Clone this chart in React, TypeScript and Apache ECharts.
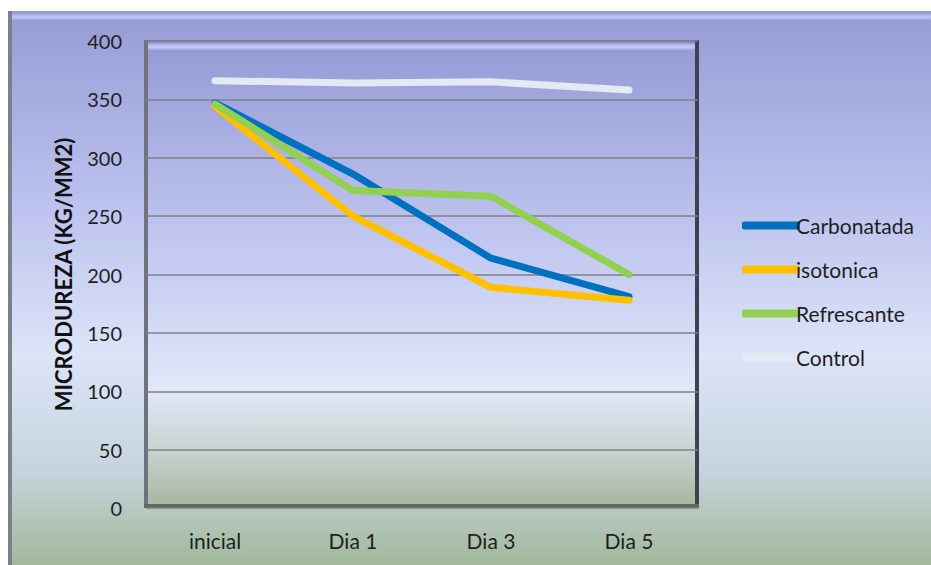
import React, { useEffect, useRef } from "react";
import * as echarts from "echarts";

const categories = ["inicial", "Dia 1", "Dia 3", "Dia 5"];
const carbonatada = [347, 286, 214, 181];
const isotonica = [344, 250, 189, 178];
const refrescante = [346, 272, 267, 200];
const control = [366, 364, 365, 358];
const seriesNames = ["Carbonatada", "isotonica", "Refrescante", "Control"];
const seriesColors = ["#0070C0", "#FFC000", "#92D050", "#E4EAF4"];

const W = 931;
const H = 565;
const PL = 146, PT = 41, PR = 698, PB = 508;

export default function App() {
  const ref = useRef<HTMLDivElement>(null);
  useEffect(() => {
    if (!ref.current) return;
    const chart = echarts.init(ref.current, undefined, { renderer: "svg" });
    const lg = (stops: [number, string][]) =>
      new echarts.graphic.LinearGradient(0, 0, 0, 1, stops.map(([offset, color]) => ({ offset, color })));
    const font = "Lato, 'Open Sans', sans-serif";
    const datas = [carbonatada, isotonica, refrescante, control];
    chart.setOption({
      animation: false,
      backgroundColor: "#ffffff",
      graphic: {
        elements: [
          {
            type: "rect", z: -100, silent: true,
            shape: { x: 8, y: 11, width: W - 8, height: H - 11 },
            style: { fill: lg([[0, "#969bd5"], [0.35, "#bcc2ee"], [0.62, "#dce4f8"], [0.82, "#c8d5e0"], [1, "#a2b89b"]]) },
          },
          { type: "rect", z: -99, silent: true, shape: { x: 8, y: 11, width: 4, height: H - 11 }, style: { fill: "#7d7f8a" } },
          { type: "rect", z: -99, silent: true, shape: { x: 12, y: 14, width: W - 12, height: 6 }, style: { fill: lg([[0, "#a6abe6"], [0.5, "#c0c5f6"], [1, "#a2a7e0"]]) } },
          {
            type: "rect", z: -90, silent: true,
            shape: { x: PL - 2, y: PT - 1, width: PR - PL + 3, height: PB - PT + 1 },
            style: { fill: lg([[0, "#9499d5"], [0.45, "#c3c9f1"], [0.75, "#e1e8f8"], [0.87, "#c9d5d2"], [1, "#a6b69f"]]) },
          },
          { type: "rect", z: -89, silent: true, shape: { x: PL - 2, y: PT - 1, width: PR - PL + 3, height: 2 }, style: { fill: "#7a7db8" } },
          { type: "rect", z: -89, silent: true, shape: { x: PL + 2, y: PT + 3, width: PR - PL - 4, height: 6 }, style: { fill: lg([[0, "#aab0ea"], [0.5, "#c5caf8"], [1, "#a0a6e2"]]) } },
          { type: "rect", z: -88, silent: true, shape: { x: PL - 2, y: PT - 1, width: 4, height: PB - PT + 1 }, style: { fill: "#70727f" } },
          { type: "rect", z: -88, silent: true, shape: { x: PR - 3, y: PT - 1, width: 4, height: PB - PT + 1 }, style: { fill: "#3f4150" } },
          { type: "rect", z: -88, silent: true, shape: { x: PL - 2, y: PB - 4, width: PR - PL + 3, height: 4 }, style: { fill: "#5d6a5a" } },
        ],
      },
      grid: { left: PL, top: PT, width: PR - PL, height: PB - PT, containLabel: false },
      legend: {
        orient: "vertical",
        left: 737,
        top: 210,
        itemWidth: 58,
        itemHeight: 8,
        itemGap: 23,
        icon: "roundRect",
        data: seriesNames.map((n, i) => ({ name: n, itemStyle: { color: seriesColors[i] } })),
        textStyle: { fontFamily: font, fontSize: 21, color: "#1f1f1f", padding: [0, 0, 0, -9] },
      },
      xAxis: {
        type: "category",
        data: categories,
        boundaryGap: true,
        axisLine: { show: false },
        axisTick: { show: false },
        axisLabel: { fontFamily: font, fontSize: 21, color: "#1f1f1f", margin: 22 },
        splitLine: { show: false },
      },
      yAxis: {
        type: "value",
        min: 0,
        max: 400,
        interval: 50,
        name: "MICRODUREZA (KG/MM2)",
        nameLocation: "middle",
        nameGap: 72,
        nameTextStyle: { fontFamily: font, fontSize: 22, fontWeight: "bold", color: "#111" },
        axisLine: { show: false },
        axisTick: { show: false },
        axisLabel: { fontFamily: font, fontSize: 20, color: "#1f1f1f", margin: 24 },
        splitLine: { show: true, lineStyle: { color: "#7f7f86", width: 1.5 } },
      },
      series: seriesNames.map((n, i) => ({
        name: n,
        type: "line",
        data: datas[i],
        symbol: "none",
        smooth: false,
        lineStyle: { color: seriesColors[i], width: 7, cap: "round", join: "round" },
        itemStyle: { color: seriesColors[i] },
        z: 3,
      })),
    });
    return () => chart.dispose();
  }, []);
  return <div ref={ref} style={{ position: "fixed", left: 0, top: 0, width: W, height: H }} />;
}
